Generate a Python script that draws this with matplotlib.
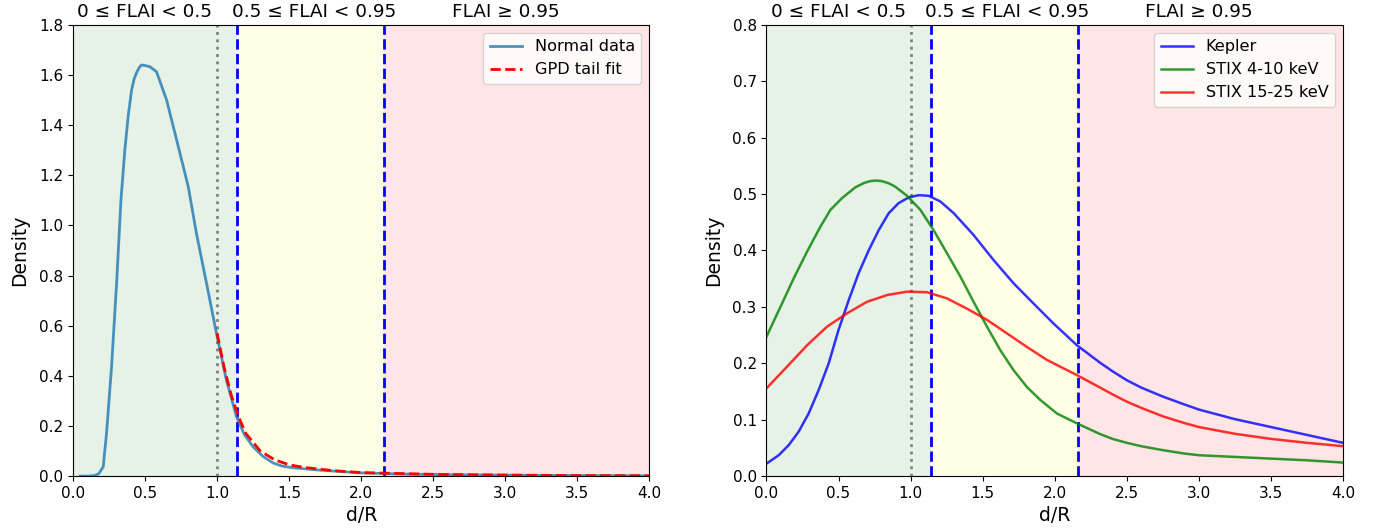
import numpy as np
import matplotlib.pyplot as plt

# Thresholds on d/R for the FLAI classes
t_low = 1.14
t_high = 2.16
region_labels = ["0 ≤ FLAI < 0.5", "0.5 ≤ FLAI < 0.95", "FLAI ≥ 0.95"]
label_x = [0.5, 1.67, 3.0]

# Left panel: density of the normal data and the GPD tail fit
normal_x = [0.05, 0.10, 0.15, 0.18, 0.21, 0.233, 0.268, 0.303, 0.333, 0.36, 0.383, 0.407,
            0.425, 0.44, 0.46, 0.476, 0.50, 0.534, 0.58, 0.65, 0.72, 0.80, 0.857, 0.927,
            0.996, 1.065, 1.135, 1.19, 1.25, 1.32, 1.39, 1.45, 1.53, 1.71, 1.99, 2.3, 2.7,
            3.2, 3.6, 4.0]
normal_y = [0.0, 0.0, 0.002, 0.01, 0.037, 0.17, 0.436, 0.769, 1.10, 1.30, 1.434, 1.54,
            1.585, 1.607, 1.630, 1.64, 1.638, 1.633, 1.613, 1.50, 1.34, 1.155, 0.968, 0.769,
            0.569, 0.383, 0.237, 0.165, 0.117, 0.078, 0.052, 0.040, 0.033, 0.024, 0.013,
            0.008, 0.005, 0.003, 0.002, 0.001]

gpd_x = [1.0, 1.05, 1.1, 1.15, 1.2, 1.3, 1.4, 1.5, 1.6, 1.8, 2.0, 2.5, 3.0, 3.5, 4.0]
gpd_y = [0.57, 0.43, 0.32, 0.235, 0.17, 0.10, 0.065, 0.045, 0.035, 0.022, 0.014,
         0.007, 0.004, 0.002, 0.0015]

# Right panel: densities per instrument
kepler_x = [0.0, 0.085, 0.155, 0.224, 0.293, 0.363, 0.432, 0.50, 0.571, 0.64, 0.709,
            0.779, 0.848, 0.917, 0.987, 1.056, 1.125, 1.206, 1.30, 1.437, 1.576, 1.714,
            1.853, 1.99, 2.154, 2.315, 2.4, 2.5, 2.6, 2.75, 2.9, 3.0, 3.25, 3.5, 3.75, 4.0]
kepler_y = [0.022, 0.037, 0.055, 0.079, 0.111, 0.153, 0.20, 0.259, 0.312, 0.36, 0.40,
            0.436, 0.466, 0.484, 0.494, 0.498, 0.497, 0.487, 0.466, 0.4275, 0.383, 0.342,
            0.306, 0.271, 0.232, 0.201, 0.186, 0.170, 0.157, 0.141, 0.127, 0.118, 0.101,
            0.087, 0.073, 0.059]

stix_lo_x = [0.0, 0.097, 0.19, 0.282, 0.374, 0.444, 0.525, 0.617, 0.68, 0.721, 0.76, 0.80,
             0.85, 0.894, 0.975, 1.068, 1.16, 1.253, 1.345, 1.437, 1.53, 1.622, 1.714,
             1.807, 1.90, 2.015, 2.154, 2.315, 2.4, 2.5, 2.6, 2.75, 2.9, 3.0, 3.25, 3.5,
             3.75, 4.0]
stix_lo_y = [0.247, 0.30, 0.351, 0.398, 0.442, 0.472, 0.493, 0.512, 0.520, 0.523, 0.524,
             0.523, 0.519, 0.513, 0.497, 0.472, 0.436, 0.395, 0.354, 0.309, 0.265, 0.2235,
             0.188, 0.158, 0.135, 0.111, 0.0935, 0.0745, 0.066, 0.059, 0.053, 0.046, 0.040,
             0.037, 0.034, 0.031, 0.028, 0.024]

stix_hi_x = [0.0, 0.143, 0.282, 0.421, 0.559, 0.698, 0.837, 0.975, 1.114, 1.253, 1.39,
             1.53, 1.669, 1.807, 1.946, 2.154, 2.315, 2.4, 2.5, 2.6, 2.75, 2.9, 3.0, 3.25,
             3.5, 3.75, 4.0]
stix_hi_y = [0.1555, 0.194, 0.232, 0.265, 0.2886, 0.309, 0.321, 0.327, 0.326, 0.315, 0.297,
             0.277, 0.253, 0.229, 0.206, 0.179, 0.157, 0.145, 0.132, 0.121, 0.106, 0.094,
             0.087, 0.075, 0.066, 0.059, 0.053]


def shade_regions(ax, ytop):
    ax.axvspan(0, t_low, color="green", alpha=0.1, lw=0)
    ax.axvspan(t_low, t_high, color="yellow", alpha=0.1, lw=0)
    ax.axvspan(t_high, 4.0, color="red", alpha=0.1, lw=0)
    ax.axvline(1.0, color="gray", ls=":", lw=2)
    ax.axvline(t_low, color="blue", ls="--", lw=2)
    ax.axvline(t_high, color="blue", ls="--", lw=2)
    for x, s in zip(label_x, region_labels):
        ax.text(x, ytop * 1.008, s, ha="center", va="bottom", fontsize=13.3)
    ax.set_xlim(0, 4)
    ax.set_ylim(0, ytop)
    ax.set_xlabel("d/R", fontsize=13.5)
    ax.set_ylabel("Density", fontsize=13.5, labelpad=7)
    ax.tick_params(labelsize=11)


fig = plt.figure(figsize=(13.76, 5.29), dpi=100)
ax1 = fig.add_axes([0.053, 0.1, 0.419, 0.853])
ax2 = fig.add_axes([0.557, 0.1, 0.419, 0.853])

shade_regions(ax1, 1.8)
ax1.plot(normal_x, normal_y, color="tab:blue", alpha=0.8, lw=2, label="Normal data")
ax1.plot(gpd_x, gpd_y, color="red", ls="--", lw=2, label="GPD tail fit")
ax1.legend(loc="upper right", fontsize=11.6)

shade_regions(ax2, 0.8)
ax2.plot(kepler_x, kepler_y, color="blue", alpha=0.8, lw=1.8, label="Kepler")
ax2.plot(stix_lo_x, stix_lo_y, color="green", alpha=0.8, lw=1.8, label="STIX 4-10 keV")
ax2.plot(stix_hi_x, stix_hi_y, color="red", alpha=0.8, lw=1.8, label="STIX 15-25 keV")
ax2.legend(loc="upper right", fontsize=11.6)

fig.savefig("out.png", dpi=100)
plt.close(fig)
